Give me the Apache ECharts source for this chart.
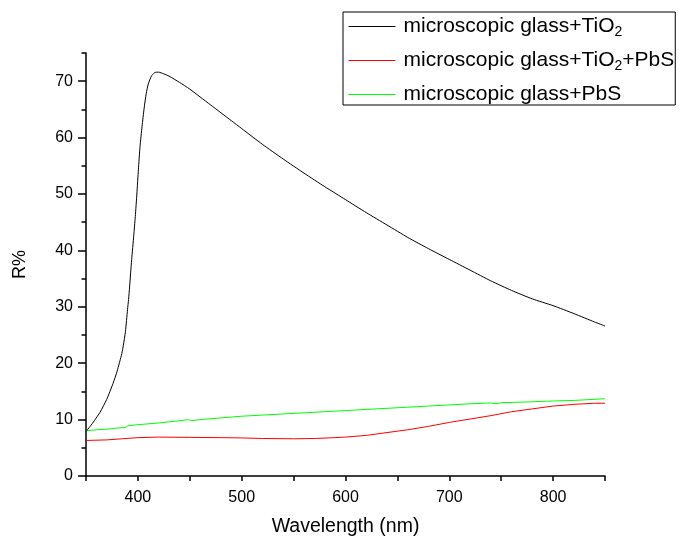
<!DOCTYPE html>
<html>
<head>
<meta charset="utf-8">
<script src="https://cdn.jsdelivr.net/npm/echarts@6/dist/echarts.min.js"></script>
<style>
html,body{margin:0;padding:0;background:#fff;}
#chart{width:680px;height:538px;}
</style>
</head>
<body>
<div id="chart"></div>
<script>
// Wavelength (nm) / R% data
const tio2Wl = [350,354,358,363.5,370,376,380,384.5,386,388,390,391,392,393,394,396,397.5,399,400.5,402,404,406,408,410,413,416,418,420,425,430,440,450,460,470,480,490,500,520,540,560,580,600,620,640,660,680,700,720,740,760,780,800,820,840,850];
const tio2R  = [7.9,8.8,9.8,11.3,13.6,16.4,18.6,21.7,23.2,25.6,29.5,31.3,33.5,36.0,38.4,42.6,46.0,50.0,54.4,58.3,62.0,65.2,67.8,69.5,70.9,71.5,71.6,71.6,71.3,70.9,69.8,68.6,67.2,65.8,64.4,63.0,61.6,58.8,56.2,53.7,51.3,49.0,46.7,44.5,42.3,40.3,38.4,36.5,34.6,32.9,31.4,30.2,28.8,27.3,26.6];

const tio2PbsWl = [350,370,385,400,420,450,480,500,520,550,570,590,600,620,640,660,680,700,720,740,760,780,800,820,840,850];
const tio2PbsR  = [6.3,6.4,6.6,6.8,6.9,6.85,6.8,6.75,6.65,6.6,6.65,6.8,6.9,7.2,7.7,8.2,8.8,9.5,10.1,10.7,11.4,11.9,12.4,12.7,12.9,12.9];

const pbsWl = [350,360,370,380,388,390,400,420,440,449,451,460,480,500,520,540,560,580,600,620,640,660,680,700,720,740,745,750,770,800,820,850];
const pbsR  = [8.0,8.2,8.3,8.5,8.6,8.9,9.1,9.4,9.8,10.0,9.8,10.0,10.3,10.6,10.8,11.0,11.2,11.4,11.6,11.8,12.0,12.2,12.4,12.6,12.8,12.95,12.8,13.0,13.1,13.3,13.4,13.7];

const seriesNames = ['microscopic glass+TiO2','microscopic glass+TiO2+PbS','microscopic glass+PbS'];
const legendLabels = {
  'microscopic glass+TiO2': '{n|microscopic glass+TiO}{s|2}',
  'microscopic glass+TiO2+PbS': '{n|microscopic glass+TiO}{s|2}{n|+PbS}',
  'microscopic glass+PbS': '{n|microscopic glass+PbS}'
};
const yMajorTicks = [0,10,20,30,40,50,60,70];

function zip(a,b){return a.map((v,i)=>[v,b[i]]);}

const FONT = 'Liberation Sans, Arial, sans-serif';
const chart = echarts.init(document.getElementById('chart'), null, {renderer:'canvas'});
chart.setOption({
  backgroundColor:'#fff',
  animation:false,
  textStyle:{fontFamily:FONT,color:'#000'},
  grid:{left:86,right:75,top:53,bottom:62,containLabel:false,outerBoundsMode:'none'},
  legend:{
    orient:'vertical',
    left:343, top:12,
    padding:[4,1,0,5],
    borderColor:'#000', borderWidth:1,
    itemWidth:47, itemHeight:14, itemGap:11,
    data:seriesNames,
    itemStyle:{opacity:0},
    lineStyle:{width:1},
    formatter:function(name){return legendLabels[name];},
    textStyle:{
      fontFamily:FONT,color:'#000',padding:[0,0,0,3],
      rich:{
        n:{fontSize:21,lineHeight:25,fontFamily:FONT,color:'#000'},
        s:{fontSize:14,lineHeight:14,verticalAlign:'bottom',fontFamily:FONT,color:'#000'}
      }
    }
  },
  xAxis:{
    type:'value',min:350,max:850,interval:50,
    name:'Wavelength (nm)',nameLocation:'middle',nameGap:41,
    nameTextStyle:{fontSize:19.5,fontFamily:FONT,color:'#000'},
    axisLine:{show:true,onZero:false,lineStyle:{color:'#000',width:1.5}},
    axisTick:{show:true,length:5,lineStyle:{color:'#000',width:1.5}},
    axisLabel:{show:true,margin:14,fontSize:16,color:'#000',fontFamily:FONT,
      formatter:function(v){return v%100===0?String(v):'';}},
    splitLine:{show:false}
  },
  yAxis:[{
    type:'value',min:0,max:75,interval:5,
    name:'R%',nameLocation:'middle',nameGap:57,nameRotate:90,
    nameTextStyle:{fontSize:18,fontFamily:FONT,color:'#000'},
    axisLine:{show:true,onZero:false,lineStyle:{color:'#000',width:1.5}},
    axisTick:{show:true,length:4.5,lineStyle:{color:'#000',width:1.5}},
    axisLabel:{show:true,margin:13,fontSize:16,color:'#000',fontFamily:FONT,
      formatter:function(v){return v%10===0?String(v):'';}},
    splitLine:{show:false}
  },{
    type:'value',min:0,max:75,interval:10,position:'left',
    axisLine:{show:false},
    axisTick:{show:true,length:8,customValues:yMajorTicks,lineStyle:{color:'#000',width:1.5}},
    axisLabel:{show:false},
    splitLine:{show:false}
  }],
  series:[
    {name:seriesNames[0],type:'line',data:zip(tio2Wl,tio2R),showSymbol:false,symbol:'none',
     smooth:0.2,
     lineStyle:{color:'#000',width:1},itemStyle:{color:'#000'},z:3},
    {name:seriesNames[1],type:'line',data:zip(tio2PbsWl,tio2PbsR),showSymbol:false,symbol:'none',
     lineStyle:{color:'#ff0000',width:1},itemStyle:{color:'#ff0000'},z:2},
    {name:seriesNames[2],type:'line',data:zip(pbsWl,pbsR),showSymbol:false,symbol:'none',
     lineStyle:{color:'#00ff00',width:1},itemStyle:{color:'#00ff00'},z:2}
  ]
});
</script>
</body>
</html>
